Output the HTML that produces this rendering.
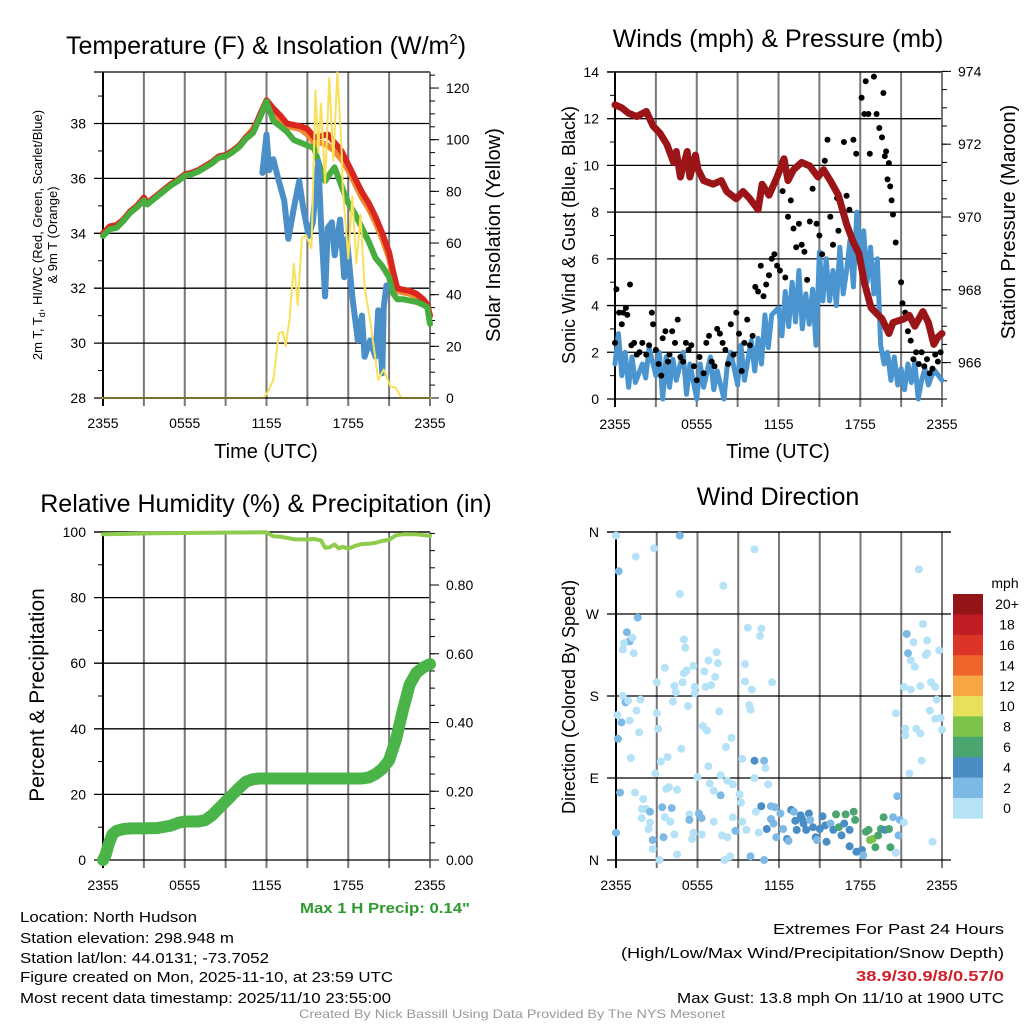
<!DOCTYPE html>
<html><head><meta charset="utf-8"><style>
html,body{margin:0;padding:0;background:#fff}
svg{display:block;font-family:"Liberation Sans",Arial,sans-serif}
</style></head><body>
<svg id="fig" width="1024" height="1024" viewBox="0 0 1024 1024" xmlns="http://www.w3.org/2000/svg">
<rect width="1024" height="1024" fill="#fff"/>
<g id="p1"></g>
<g id="p2"></g>
<g id="p3"></g>
<g id="p4"></g>

<text x="266" y="54" font-size="25" text-anchor="middle">Temperature (F) &amp; Insolation (W/m<tspan dy="-10" font-size="15">2</tspan><tspan dy="10">)</tspan></text>
<text x="778" y="47" font-size="25" text-anchor="middle">Winds (mph) &amp; Pressure (mb)</text>
<text x="266" y="512" font-size="25" text-anchor="middle">Relative Humidity (%) &amp; Precipitation (in)</text>
<text x="778" y="505" font-size="25" text-anchor="middle">Wind Direction</text>

<text x="266" y="458" font-size="20" text-anchor="middle">Time (UTC)</text>
<text x="778" y="458" font-size="20" text-anchor="middle">Time (UTC)</text>

<text transform="translate(42,235) rotate(-90)" font-size="13" text-anchor="middle">2m T, T<tspan font-size="9" dy="3">d</tspan><tspan dy="-3">, HI/WC (Red, Green, Scarlet/Blue)</tspan></text>
<text transform="translate(57,235) rotate(-90)" font-size="13" text-anchor="middle">&amp; 9m T (Orange)</text>
<text transform="translate(500,235) rotate(-90)" font-size="20" text-anchor="middle">Solar Insolation (Yellow)</text>
<text transform="translate(575,235) rotate(-90)" font-size="18" text-anchor="middle">Sonic Wind &amp; Gust (Blue, Black)</text>
<text transform="translate(1015,222) rotate(-90)" font-size="20" text-anchor="middle">Station Pressure (Maroon)</text>
<text transform="translate(44,695) rotate(-90)" font-size="21" text-anchor="middle">Percent &amp; Precipitation</text>
<text transform="translate(575,697) rotate(-90)" font-size="18" text-anchor="middle">Direction (Colored By Speed)</text>

<text x="385" y="913" font-size="15" font-weight="bold" fill="#2e9a2e" text-anchor="middle" textLength="170" lengthAdjust="spacingAndGlyphs">Max 1 H Precip: 0.14"</text>
<g font-size="15">
<text x="20" y="922" textLength="177" lengthAdjust="spacingAndGlyphs">Location: North Hudson</text>
<text x="20" y="943" textLength="214" lengthAdjust="spacingAndGlyphs">Station elevation: 298.948 m</text>
<text x="20" y="963" textLength="249" lengthAdjust="spacingAndGlyphs">Station lat/lon: 44.0131; -73.7052</text>
<text x="20" y="982" textLength="373" lengthAdjust="spacingAndGlyphs">Figure created on Mon, 2025-11-10, at 23:59 UTC</text>
<text x="20" y="1003" textLength="371" lengthAdjust="spacingAndGlyphs">Most recent data timestamp: 2025/11/10 23:55:00</text>
</g>
<g font-size="15" text-anchor="end">
<text x="1004" y="934" textLength="231" lengthAdjust="spacingAndGlyphs">Extremes For Past 24 Hours</text>
<text x="1004" y="958" textLength="383" lengthAdjust="spacingAndGlyphs">(High/Low/Max Wind/Precipitation/Snow Depth)</text>
<text x="1004" y="981" font-weight="bold" fill="#d0202a" textLength="148" lengthAdjust="spacingAndGlyphs">38.9/30.9/8/0.57/0</text>
<text x="1004" y="1003" textLength="327" lengthAdjust="spacingAndGlyphs">Max Gust: 13.8 mph On 11/10 at 1900 UTC</text>
</g>
<text x="512" y="1018" font-size="12" fill="#999" text-anchor="middle" textLength="426" lengthAdjust="spacingAndGlyphs">Created By Nick Bassill Using Data Provided By The NYS Mesonet</text>

<g id="cbar"></g>
<text x="1005" y="588" font-size="14" text-anchor="middle">mph</text>
</svg>
<script>
// ---------- DATA ----------
const timeTickLabels = ["2355","0555","1155","1755","2355"];

// Panel 1: temperatures (F) and insolation
const tempHours = [0,0.5,1,1.5,2,2.5,3,3.25,3.5,4,4.5,5,5.5,6,6.5,7,7.5,8,8.5,9,9.5,10,10.5,11,11.5,12,12.5,13,13.5,14,14.5,15,15.5,16,16.5,17,17.5,18,18.5,19,19.5,20,20.5,21,21.3,21.6,22,22.5,23,23.5,23.8,24];
const tempRed = [34.0,34.25,34.3,34.5,34.8,35.0,35.3,35.1,35.2,35.4,35.6,35.8,35.95,36.15,36.2,36.3,36.45,36.6,36.8,36.85,37.0,37.2,37.5,37.7,38.3,38.85,38.55,38.3,38.0,37.95,37.9,37.8,37.5,37.55,37.6,37.3,37.0,36.5,36.0,35.5,35.1,34.6,34.0,33.3,32.6,32.0,31.95,31.9,31.8,31.6,31.4,31.0];
const tempOrange = [34.0,34.2,34.3,34.5,34.8,35.0,35.25,35.1,35.2,35.4,35.6,35.8,35.95,36.15,36.2,36.3,36.45,36.6,36.8,36.85,37.0,37.2,37.5,37.8,38.2,38.8,38.4,38.1,37.9,37.85,37.8,37.6,37.3,37.3,37.2,37.0,36.7,36.3,35.8,35.3,34.9,34.4,33.8,33.1,32.4,31.9,31.85,31.8,31.7,31.5,31.3,31.0];
const greenHours = [0,0.5,1,1.5,2,2.5,3,3.25,3.5,4,4.5,5,5.5,6,6.5,7,7.5,8,8.5,9,9.5,10,10.5,11,11.5,12,12.5,13,13.5,14,14.5,15,15.5,16,16.3,16.7,17,17.3,17.6,18,18.5,19,19.5,20,20.5,21,21.3,21.6,22,22.5,23,23.5,23.8,24];
const tempGreen = [33.9,34.15,34.2,34.45,34.75,34.95,35.2,35.05,35.15,35.35,35.55,35.75,35.9,36.1,36.15,36.25,36.4,36.55,36.75,36.8,36.95,37.15,37.45,37.65,38.2,38.8,38.1,37.9,37.7,37.4,37.3,37.2,37.1,36.3,35.9,36.2,36.4,36.0,35.6,35.1,34.7,34.2,33.7,33.1,32.8,32.4,31.8,31.6,31.6,31.55,31.5,31.4,31.3,30.7];
const dewHours = [11.7,12.0,12.2,12.5,12.9,13.3,13.6,14.0,14.4,14.7,15.1,15.4,15.8,16.0,16.3,16.5,16.8,17.0,17.4,17.7,17.9,18.3,18.7,19.0,19.2,19.6,20.0,20.2,20.5,20.6,20.8];
const tempDew = [36.2,37.6,36.3,36.7,35.9,35.2,33.8,34.9,35.9,34.9,33.9,34.4,36.6,34.4,31.7,34.2,34.4,33.2,34.5,32.4,33.8,31.7,30.1,31.0,29.5,30.1,29.5,31.2,28.9,31.3,32.1];
const solarHours = [0,11.8,12.1,12.5,12.9,13.2,13.4,13.7,14.0,14.3,14.6,14.9,15.3,15.6,15.8,16.0,16.3,16.6,16.9,17.2,17.5,17.6,18.0,18.3,18.6,18.9,19.2,19.6,20.0,20.2,20.6,21.1,21.5,21.9,24];
const solarVals = [0,0,2.5,7,25,25.6,20,31,52,36,62,63,58,119,95,114,83,124,92,126,98,81,54,78,52,71,43,30,15,7,11,4.5,3.9,0,0];
const tempTicks = [28,30,32,34,36,38];
const solarTicks = [0,20,40,60,80,100,120];

// Panel 2: wind, gust, pressure
const windHours = [0,0.25,0.5,0.75,1,1.25,1.5,2,2.25,2.5,3,3.25,3.5,3.75,4,4.25,4.5,5,5.25,5.5,6,6.25,6.5,7,7.25,7.5,8,8.25,8.5,9,9.25,9.5,10,10.25,10.5,10.75,11,11.25,11.5,12,12.25,12.5,12.75,13,13.25,13.5,13.75,14,14.25,14.5,14.75,15,15.25,15.5,15.75,16,16.25,16.5,16.75,17,17.25,17.5,17.75,18,18.25,18.5,18.75,19,19.25,19.5,19.75,20,20.25,20.5,20.75,21,21.25,21.5,21.75,22,22.25,22.5,22.75,23,23.25,23.5,24];
const windVals = [1.5,2.8,1.0,2.0,0.5,1.8,0.7,1.5,0.9,2.2,1.0,2.0,0,1.8,0.5,1.7,0.8,2.0,0.2,1.5,0,1.5,0.5,1.8,0.4,1.2,0,1.5,2.0,0.6,2.3,0.8,2.5,1.2,2.6,1.5,3.6,2.2,3.6,3.9,2.7,4.6,3.1,5.0,3.3,5.5,3.0,4.5,3.2,4.7,2.3,6.3,4.2,6.0,4.2,5.5,4.0,6.5,4.5,5.5,6.8,4.8,8.0,5.8,7.2,5.0,6.5,4.5,6.0,2.3,1.5,2.0,0.8,1.8,0.6,1.3,0.4,1.5,0.7,1.6,0,0.8,1.3,0.6,1.0,1.2,0.8];
const gustHours = [0,0.1,0.3,0.5,0.6,0.8,0.9,1.1,1.2,1.4,1.6,1.8,2,2.3,2.5,2.7,2.8,3,3.2,3.4,3.5,3.7,3.9,4,4.2,4.4,4.6,4.8,5,5.2,5.4,5.6,5.8,6,6.2,6.5,6.7,6.9,7.1,7.3,7.5,7.7,7.9,8.1,8.3,8.5,8.7,8.9,9.1,9.3,9.5,9.7,9.9,10.1,10.3,10.5,10.7,10.9,11.1,11.3,11.5,11.7,11.9,12.1,12.3,12.5,12.7,12.9,13.1,13.3,13.5,13.7,13.9,14.1,14.3,14.5,14.8,15.0,15.2,15.4,15.6,15.8,16.0,16.3,16.4,16.6,16.8,17.0,17.2,17.5,17.7,18.1,18.3,18.4,18.6,18.7,19.0,19.2,19.4,19.6,19.7,19.8,19.9,20.0,20.1,20.2,20.3,20.4,20.6,21.0,21.1,21.3,21.5,21.7,21.9,22.1,22.3,22.5,22.7,22.9,23.1,23.3,23.5,23.7,23.9];
const gustVals = [2.4,4.7,3.7,3.2,3.7,3.9,3.6,4.9,2.3,2.4,1.9,2.0,2.4,1.9,2.3,3.7,3.2,2.1,1.5,1.0,2.6,2.9,1.6,1.9,2.9,2.4,3.4,1.8,1.6,2.4,2.1,2.3,1.4,0.8,1.8,1.1,2.4,2.7,1.6,1.4,3.0,2.8,2.4,2.1,1.5,3.2,1.9,3.7,2.8,1.2,2.4,3.4,2.3,2.7,4.8,4.6,5.7,4.4,4.9,5.3,6.0,6.2,5.7,5.5,8.9,5.2,7.8,8.5,7.3,6.5,7.5,6.6,6.3,5.1,7.6,9.0,7.5,7.0,6.2,10.2,11.1,7.8,6.6,8.6,7.2,8.3,11.0,8.7,8.1,11.1,10.5,12.9,12.2,13.6,12.2,10.5,13.8,12.2,11.6,11.2,13.1,10.4,10.6,9.4,10.1,9.1,8.5,7.9,6.7,5.0,4.1,3.7,2.9,2.5,1.7,2.0,1.5,2.0,1.4,1.7,1.1,1.3,1.9,1.6,2.0,1.7,1.2,1.0,1.8];
const presHours = [0,0.5,1,1.6,2.3,2.8,3.3,3.8,4.3,4.5,4.8,5.3,5.5,5.9,6.1,6.5,7.2,7.8,8.2,8.9,9.4,9.9,10.5,10.8,11.3,11.9,12.4,12.7,13.1,13.7,14.3,14.9,15.3,15.8,16.4,17.0,17.5,17.9,18.3,18.8,19.6,20.1,20.4,21.2,21.6,22.0,22.6,23.0,23.4,23.7,24.0];
const presVals = [973.08,973.0,972.85,972.76,972.9,972.5,972.3,972.0,971.5,971.8,971.1,971.8,971.1,971.7,971.3,971.0,970.9,971.0,970.7,970.5,970.7,970.5,970.2,970.9,970.6,971.1,971.6,971.0,971.3,971.5,971.4,971.1,971.3,971.0,970.6,969.8,969.3,969.0,968.2,967.5,967.2,966.8,967.1,967.2,967.3,967.0,967.4,967.1,966.5,966.7,966.8];
const windTicks = [0,2,4,6,8,10,12,14];
const presTicks = [966,968,970,972,974];

// Panel 3: RH and precip
const rhHours = [0,4,8,12,12.5,13,14,15,15.5,16,16.3,16.6,17,17.3,17.6,18,18.5,19,19.5,20,20.5,21,21.5,22,23,24];
const rhVals = [99.3,99.6,99.8,99.9,98.7,98.6,97.8,97.7,97.9,97.4,95.2,95.3,96.2,95.0,95.5,94.9,95.8,96.3,96.4,96.7,97.3,97.6,99.0,99.3,99.3,98.8];
const precHours = [0,0.2,0.4,0.7,1,1.5,2,3,4,5,5.5,6,7,7.5,8,8.5,9,9.5,10,10.5,11,11.5,12,13,15,17,19,19.5,20,20.5,21,21.5,22,22.5,23,23.5,24];
const precVals = [0,0.015,0.045,0.075,0.085,0.09,0.092,0.092,0.093,0.1,0.108,0.112,0.112,0.116,0.13,0.15,0.17,0.19,0.21,0.228,0.235,0.237,0.237,0.237,0.237,0.237,0.237,0.24,0.25,0.265,0.29,0.35,0.435,0.51,0.545,0.56,0.57];
const rhTicks = [0,20,40,60,80,100];
const precTicks = ["0.00","0.20","0.40","0.60","0.80"];

// Panel 4: direction (deg) with speed class (0:0-2,1:2-4,2:4-6,3:6-8,4:8-10)
const dirHours = [0,0.2,1.45,2.8,4.7,4.7,7.9,10.2,22.3,1.6,0.8,1.0,0.6,1.2,0.5,1.3,0.5,0.7,0.9,0.1,0.4,0.15,1.8,1.5,1.0,1.7,1.1,3.0,3.1,3.0,3.6,2.9,3.3,3.8,0.3,1.4,2.0,1.9,2.2,2.5,1.9,2.5,2.4,0,2.7,2.7,3.2,3.4,4.1,3.7,3.9,4.5,3.6,4.0,3.5,4.3,4.5,4.2,4.4,4.3,4.8,4.9,5.0,5.1,5.0,5.2,5.7,5.8,5.8,5.3,6.5,6.8,7.4,7.5,7.3,7.0,6.6,7.6,6.4,6.7,8.5,8.1,6.8,7.7,8.2,8.6,6.9,7.2,7.7,6.0,5.4,6.1,6.3,5.4,7.2,5.7,6.3,5.6,7.8,8.2,8.6,8.8,9.3,9.6,8.4,8.0,9.9,9.1,9.2,9.3,10.2,10.9,11.0,10.2,11.2,9.7,10.7,10.6,9.5,9.5,10.0,11.5,9.8,9.9,10.3,10.5,10.9,11.1,10.7,11.4,11.7,11.4,11.6,11.8,12.1,12.3,12.6,12.7,12.9,13.1,13.2,13.3,13.6,13.7,13.8,14.0,14.2,14.3,14.5,14.7,14.8,15.0,15.2,15.4,15.5,15.8,16.0,16.2,16.4,16.6,16.8,16.9,17.2,17.5,17.6,17.2,17.7,18.1,18.2,18.4,18.6,18.7,18.9,19.1,19.3,19.5,19.7,19.8,20.1,20.2,20.4,20.6,20.8,20.9,20.7,21.2,20.6,21.2,21.3,21.3,21.6,21.4,21.5,21.7,21.9,22.0,21.7,22.4,22.1,22.4,22.5,22.6,22.9,22.8,22.9,23.2,23.5,23.6,23.1,23.5,23.9,24.0,23.8,23.3,20.6];
const dirVals = [356,317,333,342,356,292,301,341,319,266,250,240,238,244,231,227,180,173,175,159,151,133,176,164,153,140,112,161,144,195,211,95,108,113,74,74,67,56,56,53,46,41,34,30,22,12,0,58,57,78,80,77,47,42,25,28,6,174,184,191,122,195,242,233,205,208,213,190,183,169,207,219,228,216,201,192,190,163,147,142,134,124,103,93,87,83,84,76,71,91,50,51,46,44,42,30,28,23,27,25,47,32,42,33,4,0,4,72,63,111,109,109,101,90,83,255,254,246,215,196,187,195,170,165,53,30,0,34,59,59,58,45,40,25,51,34,23,21,55,53,43,33,49,45,40,33,51,44,36,25,22,34,48,38,20,40,33,50,36,27,40,50,33,53,44,15,9,11,5,31,33,22,23,14,27,34,47,33,34,14,47,8,27,44,70,41,161,190,144,137,95,248,227,219,239,212,187,191,144,139,109,259,241,225,227,195,190,176,164,155,156,143,230,20,8];
const dirClass = [0,1,0,0,1,0,0,0,0,1,1,1,0,0,0,0,0,1,0,0,1,1,0,0,0,0,0,0,0,0,0,0,0,0,1,0,0,0,0,1,0,0,0,1,1,0,0,1,1,0,0,0,0,0,1,0,0,0,0,0,0,0,0,0,0,0,0,0,0,0,0,0,0,0,0,0,0,0,0,0,0,0,0,0,0,0,0,0,1,0,0,1,1,1,0,0,0,0,0,0,0,1,0,0,0,0,1,0,0,0,2,1,0,0,0,0,0,0,0,0,0,0,0,0,0,0,1,2,2,1,1,1,1,1,1,1,2,1,2,1,2,2,2,2,2,2,2,1,2,2,1,2,2,2,2,1,2,3,3,2,2,3,2,3,3,2,2,2,1,3,3,4,4,3,3,3,3,2,3,3,1,0,1,1,1,0,0,0,0,0,0,1,1,0,0,0,0,0,0,0,0,0,0,0,0,0,0,0,0,0,0,0,0,0];
const dirTickLabels = ["N","E","S","W","N"];
const speedLabels = ["0","2","4","6","8","10","12","14","16","18","20+"];
const speedColors = ["#b5e2f7","#7cb9e4","#4a8dc5","#4aa66e","#7cc24b","#e6e05a","#f6a744","#ef6429","#dd3428","#bf1c24","#931518"];

// ---------- DRAWING ----------
const NS = "http://www.w3.org/2000/svg";
function el(tag, parent){ const e = document.createElementNS(NS, tag); parent.appendChild(e); return e; }
function pathFrom(xs, ys, xf, yf){ let d=""; const n=Math.min(xs.length,ys.length); for(let i=0;i<n;i++){ d += (i?"L":"M")+xf(xs[i]).toFixed(1)+","+yf(ys[i]).toFixed(1);} return d; }

function frame(g, L, R, T, B, gridLeft, gridRight, ys, yLabels, prefix){
  for(let k=0;k<=8;k++){
    const x = L + (R-L)*k/8;
    const v = el("line", g);
    v.setAttribute("x1", x); v.setAttribute("x2", x); v.setAttribute("y1", T); v.setAttribute("y2", B+8);
    v.setAttribute("stroke", (k===0)?"#000":"#777"); v.setAttribute("stroke-width", 2);
    
    
  }
  for(let k=0;k<5;k++){
    const t = el("text", g);
    t.setAttribute("x", L+(R-L)*k/4); t.setAttribute("y", B+30);
    t.setAttribute("font-size", 14); t.setAttribute("text-anchor","middle");
    t.textContent = timeTickLabels[k];
    
    
  }
  for(let i=0;i<ys.length;i++){
    const h = el("line", g);
    h.setAttribute("x1", gridLeft); h.setAttribute("x2", gridRight); h.setAttribute("y1", ys[i]); h.setAttribute("y2", ys[i]);
    h.setAttribute("stroke", "#000"); h.setAttribute("stroke-width", 1.3);
    
    
    if(yLabels){
      const t = el("text", g);
      t.setAttribute("x", gridLeft-8); t.setAttribute("y", ys[i]+5);
      t.setAttribute("font-size", 14); t.setAttribute("text-anchor","end");
      t.textContent = yLabels[i];
      
      
    }
  }
  const top = el("line", g);
  top.setAttribute("x1", gridLeft); top.setAttribute("x2", gridRight); top.setAttribute("y1", T); top.setAttribute("y2", T);
  top.setAttribute("stroke", "#000"); top.setAttribute("stroke-width", 1.3);
  
  
}
function minorTicks(g, x, dir, vals, yf, len, prefix){
  for(const v of vals){
    const m = el("line", g);
    m.setAttribute("x1", x); m.setAttribute("x2", x+dir*len); m.setAttribute("y1", yf(v)); m.setAttribute("y2", yf(v));
    m.setAttribute("stroke", "#000"); m.setAttribute("stroke-width", 1);
    
    
  }
}
function rightAxis(g, R, T, B, ticks, labels, yf, minors, prefix){
  const a = el("line", g);
  a.setAttribute("x1", R); a.setAttribute("x2", R); a.setAttribute("y1", T); a.setAttribute("y2", B);
  a.setAttribute("stroke", "#777"); a.setAttribute("stroke-width", 2);
  
  
  minorTicks(g, R, 1, ticks, yf, 9, prefix+'-right-major');
  minorTicks(g, R, 1, minors, yf, 5, prefix+'-right-minor');
  for(let i=0;i<ticks.length;i++){
    const t = el("text", g);
    t.setAttribute("x", R+16); t.setAttribute("y", yf(ticks[i])+5);
    t.setAttribute("font-size", 14);
    t.textContent = labels[i];
    
    
  }
}
function line(g, xs, ys, xf, yf, color, w, name){
  const p = el("path", g);
  p.setAttribute("d", pathFrom(xs, ys, xf, yf));
  p.setAttribute("fill","none"); p.setAttribute("stroke", color); p.setAttribute("stroke-width", w);
  p.setAttribute("stroke-linejoin","round"); p.setAttribute("stroke-linecap","round");
  
  
  return p;
}
function range(a,b,s){ const r=[]; for(let v=a; v<=b+1e-9; v+=s) r.push(+v.toFixed(4)); return r; }

// Panel 1
(function(){
  const g = document.getElementById("p1");
  const L=103,R=430,T=72,B=398;
  const x = h => L + h*(R-L)/24;
  const yT = v => B - (v-28)*27.45;
  const yS = v => B - v*2.583;
  frame(g,L,R,T,B,94,R,tempTicks.map(yT),tempTicks,"temp");
  minorTicks(g, L, -1, range(29,39,2), yT, 5, "temp-left-minor");
  rightAxis(g,R,T,B,solarTicks,solarTicks,yS,range(5,125,5),"solar");
  line(g,tempHours,tempOrange,x,yT,"#f08a30",6,"temp-9m-line");
  line(g,tempHours,tempRed,x,yT,"#d9271f",6,"temp-2m-line");
  line(g,greenHours,tempGreen,x,yT,"#47ad3e",6,"heat-index-line");
  line(g,dewHours,tempDew,x,yT,"#4a8fc8",6,"dewpoint-line");
  line(g,solarHours,solarVals,x,yS,"#f9e05a",2,"insolation-line");
  const base = el("line", g);
  base.setAttribute("x1",L); base.setAttribute("x2",R); base.setAttribute("y1",B); base.setAttribute("y2",B);
  base.setAttribute("stroke","#000"); base.setAttribute("stroke-width",1);
  
  
})();

// Panel 2
(function(){
  const g = document.getElementById("p2");
  const L=615,R=942,T=72,B=399;
  const x = h => L + h*(R-L)/24;
  const yW = v => B - v*23.36;
  const yP = v => B - (v-965)*36.4;
  frame(g,L,R,T,B,607,R,windTicks.map(yW),windTicks,"wind");
  minorTicks(g, L, -1, range(1,13,2), yW, 5, "wind-left-minor");
  rightAxis(g,R,T,B,presTicks,presTicks,yP,range(965,974,0.5),"pressure");
  line(g,windHours,windVals,x,yW,"#4a95d0",5,"sonic-wind-line");
  for(let i=0;i<gustHours.length;i++){
    const c = el("circle", g);
    c.setAttribute("cx", x(gustHours[i]).toFixed(1)); c.setAttribute("cy", yW(gustVals[i]).toFixed(1));
    c.setAttribute("r", 3); c.setAttribute("fill", "#000");
    
    
  }
  line(g,presHours,presVals,x,yP,"#9b1518",7,"pressure-line");
})();

// Panel 3
(function(){
  const g = document.getElementById("p3");
  const L=103,R=430,T=532,B=860;
  const x = h => L + h*(R-L)/24;
  const yR = v => B - v*3.28;
  const yI = v => B - v*343.75;
  frame(g,L,R,T,B,94,R,rhTicks.map(yR),rhTicks,"rh");
  minorTicks(g, L, -1, range(10,90,20), yR, 5, "rh-left-minor");
  rightAxis(g,R,T,B,precTicks.map(Number),precTicks,yI,range(0,0.95,0.05),"precip");
  line(g,rhHours,rhVals,x,yR,"#8fcc4e",4,"humidity-line");
  line(g,precHours,precVals,x,yI,"#4bb448",12,"precip-line");
})();

// Panel 4
(function(){
  const g = document.getElementById("p4");
  const L=616,R=942,T=532,B=860;
  const x = h => L + h*(R-L)/24;
  const yD = v => B - v*(B-T)/360;
  const dticks=[0,90,180,270,360];
  frame(g,L,R,T,B,607,951,dticks.map(yD),dirTickLabels,"direction");
  const n = Math.min(dirHours.length, dirVals.length);
  for(let i=0;i<n;i++){
    const c = el("circle", g);
    c.setAttribute("cx", x(dirHours[i]).toFixed(1)); c.setAttribute("cy", yD(dirVals[i]).toFixed(1));
    c.setAttribute("r", 4); c.setAttribute("fill", speedColors[dirClass[i] || 0]);
    
    
  }
  const cb = document.getElementById("cbar");
  const top=594, bh=20.4;
  for(let k=0;k<11;k++){
    const idx = 10-k;
    const r = el("rect", cb);
    r.setAttribute("x",953); r.setAttribute("y",top+k*bh); r.setAttribute("width",30); r.setAttribute("height",bh+0.3);
    r.setAttribute("fill", speedColors[idx]);
    
    
    const t = el("text", cb);
    t.setAttribute("x",1007); t.setAttribute("y",top+k*bh+bh/2+5);
    t.setAttribute("font-size",14); t.setAttribute("text-anchor","middle");
    t.textContent = speedLabels[idx];
    
    
  }
})();
</script>
</body></html>
